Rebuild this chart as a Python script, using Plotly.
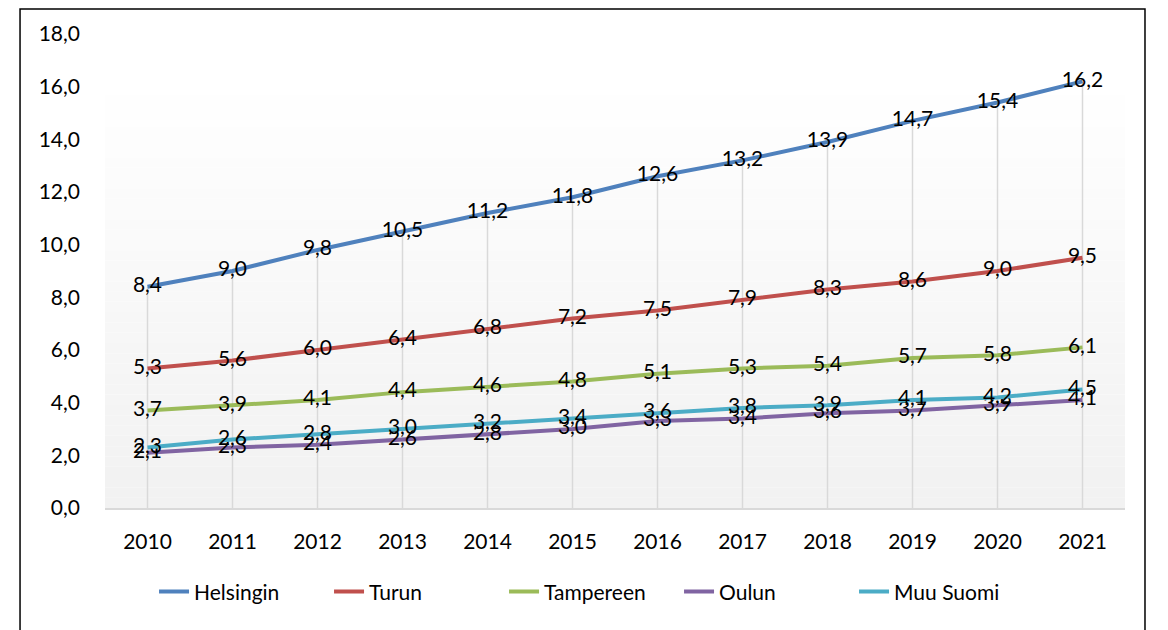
import plotly.graph_objects as go

years = [2010, 2011, 2012, 2013, 2014, 2015, 2016, 2017, 2018, 2019, 2020, 2021]
helsingin = [8.4, 9.0, 9.8, 10.5, 11.2, 11.8, 12.6, 13.2, 13.9, 14.7, 15.4, 16.2]
turun = [5.3, 5.6, 6.0, 6.4, 6.8, 7.2, 7.5, 7.9, 8.3, 8.6, 9.0, 9.5]
tampereen = [3.7, 3.9, 4.1, 4.4, 4.6, 4.8, 5.1, 5.3, 5.4, 5.7, 5.8, 6.1]
oulun = [2.1, 2.3, 2.4, 2.6, 2.8, 3.0, 3.3, 3.4, 3.6, 3.7, 3.9, 4.1]
muu_suomi = [2.3, 2.6, 2.8, 3.0, 3.2, 3.4, 3.6, 3.8, 3.9, 4.1, 4.2, 4.5]

series = [
    ("Helsingin", helsingin, "#4f81bd"),
    ("Turun", turun, "#c0504d"),
    ("Tampereen", tampereen, "#9bbb59"),
    ("Oulun", oulun, "#8064a2"),
    ("Muu Suomi", muu_suomi, "#4bacc6"),
]

FONT = "Lato, 'Open Sans', sans-serif"

fig = go.Figure()

# drop lines from the top series down to the axis
top = [max(v) for v in zip(*[s[1] for s in series])]
drop_x, drop_y = [], []
for yr, v in zip(years, top):
    drop_x += [yr, yr, None]
    drop_y += [0, v, None]
fig.add_trace(go.Scatter(
    x=drop_x, y=drop_y, mode="lines",
    line=dict(color="#d9d9d9", width=1.5),
    showlegend=False, hoverinfo="skip",
))

for name, vals, color in series:
    fig.add_trace(go.Scatter(
        x=years, y=vals, name=name,
        mode="lines+text",
        line=dict(color=color, width=4),
        texttemplate="%{y:.1f}",
        textposition="middle center",
        textfont=dict(size=21, color="black", family=FONT),
    ))

# soft vertical gradient in the plot area
shapes = []
n = 40
for i in range(n):
    t = i / n
    c = int(242 + (255 - 242) * t)
    shapes.append(dict(
        type="rect", xref="paper", yref="paper",
        x0=0, x1=1, y0=0.87 * i / n, y1=0.87 * (i + 1) / n,
        fillcolor=f"rgb({c},{c},{c})", line=dict(width=0), layer="below",
    ))
# outer frame (the page adds an 8px offset, margins compensate for it)
shapes.append(dict(
    type="rect", xref="paper", yref="paper",
    x0=-0.0833, x1=1.0196, y0=-0.5, y1=1.053,
    line=dict(color="black", width=1.5), fillcolor="rgba(0,0,0,0)",
))

fig.update_layout(
    width=1168, height=630,
    margin=dict(l=97, r=51, t=26, b=130),
    paper_bgcolor="white", plot_bgcolor="white",
    separators=", ",
    font=dict(family=FONT, size=21, color="black"),
    shapes=shapes,
    showlegend=True,
    legend=dict(
        orientation="h", x=0.477, xanchor="center", y=-0.177, yanchor="middle",
        font=dict(size=21), bgcolor="rgba(0,0,0,0)",
        entrywidth=130, entrywidthmode="pixels",
    ),
    xaxis=dict(
        range=[years[0] - 0.5, years[-1] + 0.5],
        tickmode="array", tickvals=years, ticktext=[str(y) for y in years],
        showgrid=False, zeroline=False,
        showline=True, linecolor="#d9d9d9", linewidth=2,
        ticks="", ticklabelstandoff=14,
        tickfont=dict(size=21),
    ),
    yaxis=dict(
        range=[0, 18], dtick=2, tickformat=".1f",
        showgrid=False, zeroline=False, showline=False,
        ticks="", ticklabelstandoff=24,
        tickfont=dict(size=21),
    ),
)

fig.write_html("out.html")
